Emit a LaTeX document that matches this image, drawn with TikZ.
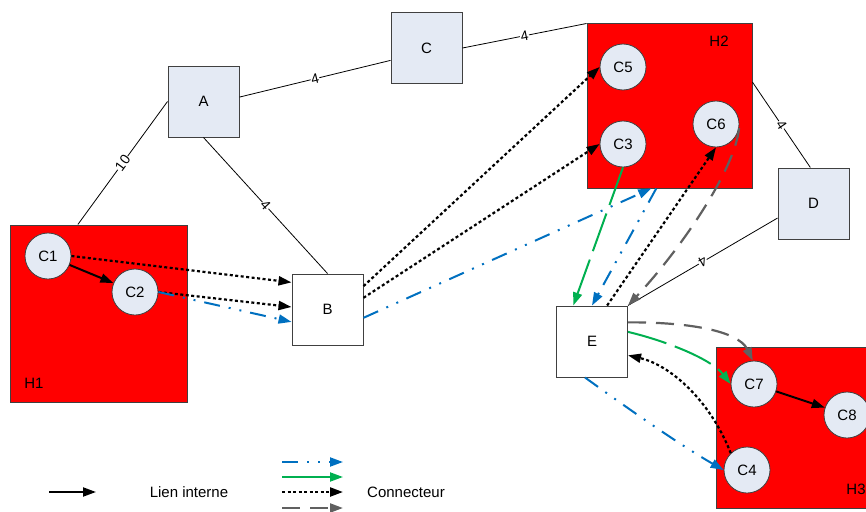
\documentclass[tikz,border=0pt]{standalone}
\usepackage{fontspec}
\setmainfont{Liberation Sans}
\usetikzlibrary{arrows.meta,calc}
\definecolor{boxfill}{HTML}{E4EAF4}
\definecolor{cblue}{HTML}{0070C0}
\definecolor{cgreen}{HTML}{00B050}
\definecolor{cgray}{HTML}{606060}
\definecolor{cred}{HTML}{FF0000}
\definecolor{bord}{HTML}{404040}
\begin{document}
\begin{tikzpicture}[x=1pt,y=-1pt,
  font=\fontsize{15}{18}\selectfont,
  host/.style={draw=bord, fill=cred, line width=1pt, inner sep=0pt},
  sbox/.style={draw=bord, fill=boxfill, line width=1pt, minimum width=71pt, minimum height=71pt, inner sep=0pt},
  wbox/.style={sbox, fill=white},
  comp/.style={circle, draw=bord, fill=boxfill, line width=0.8pt, minimum size=46pt, inner sep=0pt},
  link/.style={draw=black, line width=0.8pt},
  elabel/.style={fill=white, inner sep=0.5pt, sloped, font=\fontsize{14}{16}\selectfont},
  tip/.style={-{Triangle[length=13pt,width=9pt]}},
  internal/.style={tip, line width=2pt, black},
  cdot/.style={tip, line width=2.2pt, black, dash pattern=on 3pt off 2.5pt},
  cdash/.style={tip, line width=2.2pt, cgray, dash pattern=on 18pt off 10pt},
  cgr/.style={tip, line width=2pt, cgreen, dash pattern=on 40pt off 9pt},
  cgrsolid/.style={tip, line width=2pt, cgreen},
  cbl/.style={tip, line width=2pt, cblue, dash pattern=on 16pt off 9pt on 2pt off 9pt on 2pt off 9pt},
]
\useasboundingbox (0,0) rectangle (866,511);

% hosts
\node[host, minimum width=177pt, minimum height=177pt] (H1) at (98.5,313.5) {};
\node[host, minimum width=165pt, minimum height=164pt] (H2) at (669.5,106) {};
\node[host, minimum width=160pt, minimum height=161pt] (H3) at (796,427.5) {};
\node (H1l) at (34,383) {H1};
\node (H2l) at (719,41) {H2};
\node (H3l) at (856,489) {H3};

% routers
\node[sbox] (A) at (203.5,101.5) {A};
\node[sbox] (C) at (426.5,48) {C};
\node[sbox] (D) at (813.5,203.5) {D};
\node[wbox] (B) at (327.5,309.5) {B};
\node[wbox] (E) at (592,341.5) {E};

% components
\node[comp] (C1) at (48,256) {C1};
\node[comp] (C2) at (135,292) {C2};
\node[comp] (C5) at (623,67) {C5};
\node[comp] (C3) at (623,144) {C3};
\node[comp] (C6) at (716,124) {C6};
\node[comp] (C7) at (754,384) {C7};
\node[comp] (C8) at (847,415) {C8};
\node[comp] (C4) at (747,470) {C4};

% network links
\draw[link] ($(H1.north west)!0.384!(H1.north east)$) -- node[elabel] {10} (A.west);
\draw[link] (A.7) -- node[elabel] {4} (C.199);
\draw[link] (A.south) -- node[elabel] {4} (B.north);
\draw[link] (C.east) -- node[elabel] {4} (H2.north west);
\draw[link] (H2.16) -- node[elabel] {4} (D.95);
\draw[link] (D.202) -- node[elabel, allow upside down] {4} (E.north east);

% connectors
\draw[internal] (C1) -- (C2);
\draw[internal] (C7) -- (C8);
\draw[cdot] (C1.east) -- (B.143);
\draw[cdot] (C2.east) -- (B.176);
\draw[cbl] (C2.east) -- (B.199);
\draw[cdot] (B.33) -- (C5.west);
\draw[cdot] (B.18) -- (C3.west);
\draw[cbl] (B.-13) -- ($(H2.south west)!0.39!(H2.south east)$);
\draw[cgr] (C3.south) -- ($(E.north west)!0.24!(E.north east)$);
\draw[cbl] ($(H2.south west)!0.42!(H2.south east)$) -- (E.north);
\draw[cdot] ($(E.north west)!0.71!(E.north east)$) -- (C6.south);
\draw[cdash] (C6.-10) .. controls (735,170) and (680,250) .. (E.north east);
\draw[cdash] (E.28) .. controls (685,322) and (738,330) .. (C7.93);
\draw[cgr] (E.15) .. controls (670,342) and (712,360) .. (C7.west);
\draw[cdot] (C4.134) .. controls (710,400) and (670,365) .. (E.-21);
\draw[cbl] (E.-101) .. controls (630,410) and (680,445) .. (C4.west);

% legend
\coordinate (L0a) at (49,492); \coordinate (L0b) at (96,492);
\coordinate (L1a) at (282,462); \coordinate (L1b) at (343,462);
\coordinate (L2a) at (282,477); \coordinate (L2b) at (343,477);
\coordinate (L3a) at (282,492); \coordinate (L3b) at (343,492);
\coordinate (L4a) at (282,508); \coordinate (L4b) at (343,508);
\draw[internal] (L0a) -- (L0b);
\draw[cbl] (L1a) -- (L1b);
\draw[cgrsolid] (L2a) -- (L2b);
\draw[cdot] (L3a) -- (L3b);
\draw[cdash] (L4a) -- (L4b);
\node (lien) at (189,492) {Lien interne};
\node (conn) at (406,492) {Connecteur};
\end{tikzpicture}
\end{document}
